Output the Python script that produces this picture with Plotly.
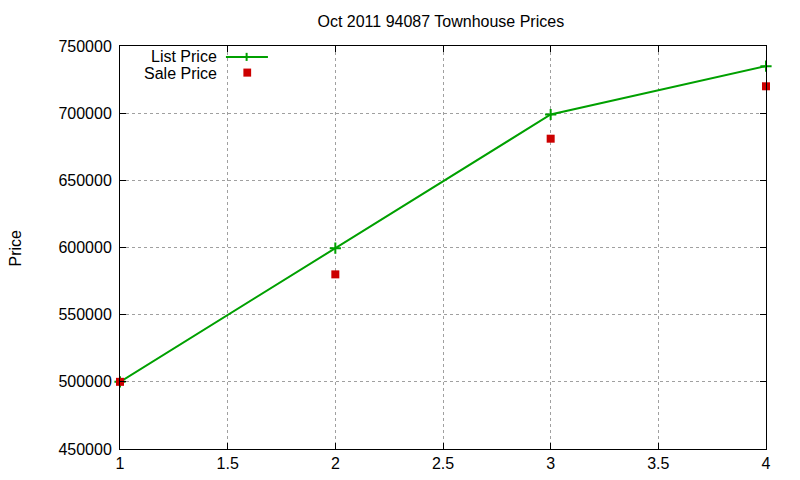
import plotly.graph_objects as go

# data
bedrooms = [1, 2, 3, 4]
list_price = [500000, 599500, 699000, 735000]
sale_price = [500000, 580000, 681000, 720000]

x_ticks = [1, 1.5, 2, 2.5, 3, 3.5, 4]
y_ticks = [450000, 500000, 550000, 600000, 650000, 700000, 750000]

GREEN = "#00a000"
RED = "#cc0000"
FONT = "Liberation Sans, Arial, sans-serif"
FS = 16

fig = go.Figure()

fig.add_trace(go.Scatter(
    x=bedrooms, y=list_price, mode="lines+markers", name="List Price",
    line=dict(color=GREEN, width=2),
    marker=dict(symbol="cross-thin", size=8, line=dict(color=GREEN, width=2)),
    cliponaxis=False, showlegend=False,
))
fig.add_trace(go.Scatter(
    x=bedrooms, y=sale_price, mode="markers", name="Sale Price",
    marker=dict(symbol="square", size=8, color=RED),
    cliponaxis=False, showlegend=False,
))

# gnuplot style key, text right aligned in front of the sample
key_items = [("List Price", 0.975), ("Sale Price", 0.933)]
for label, ky in key_items:
    fig.add_annotation(x=0.153, y=ky, xref="paper", yref="paper", text=label,
                       showarrow=False, xanchor="right", yanchor="middle",
                       font=dict(family=FONT, size=FS, color="black"))
fig.add_shape(type="line", xref="paper", yref="paper", x0=0.164, x1=0.229,
              y0=0.973, y1=0.973, line=dict(color=GREEN, width=2))
fig.add_shape(type="line", xref="paper", yref="paper", x0=0.196, x1=0.196,
              y0=0.963, y1=0.983, line=dict(color=GREEN, width=2))
fig.add_shape(type="rect", xref="paper", yref="paper", x0=0.191, x1=0.203,
              y0=0.924, y1=0.944, fillcolor=RED, line=dict(width=0))

axis_common = dict(
    showline=True, linecolor="black", linewidth=1, mirror="ticks",
    ticks="inside", ticklen=6, tickcolor="black",
    showgrid=True, gridcolor="#a0a0a0", griddash="dot", gridwidth=1,
    zeroline=False, tickfont=dict(family=FONT, size=FS, color="black"),
)

fig.update_xaxes(range=[1, 4], tickvals=x_ticks,
                 ticktext=[f"{v:g}" for v in x_ticks], **axis_common)
fig.update_yaxes(range=[450000, 750000], tickvals=y_ticks,
                 ticktext=[str(v) for v in y_ticks], ticklabelstandoff=4,
                 **axis_common)

fig.update_layout(
    width=800, height=480,
    margin=dict(l=112, r=42, t=38, b=39),
    paper_bgcolor="white", plot_bgcolor="white",
    title=dict(text="Oct 2011 94087 Townhouse Prices", x=0.541, y=0.973,
               xanchor="center", yanchor="middle",
               font=dict(family=FONT, size=FS, color="black")),
    font=dict(family=FONT, size=FS, color="black"),
)
fig.add_annotation(x=-0.161, y=0.5, xref="paper", yref="paper", text="Price",
                   textangle=-90, showarrow=False, xanchor="center",
                   font=dict(family=FONT, size=FS, color="black"))

fig.write_html("out.html")
